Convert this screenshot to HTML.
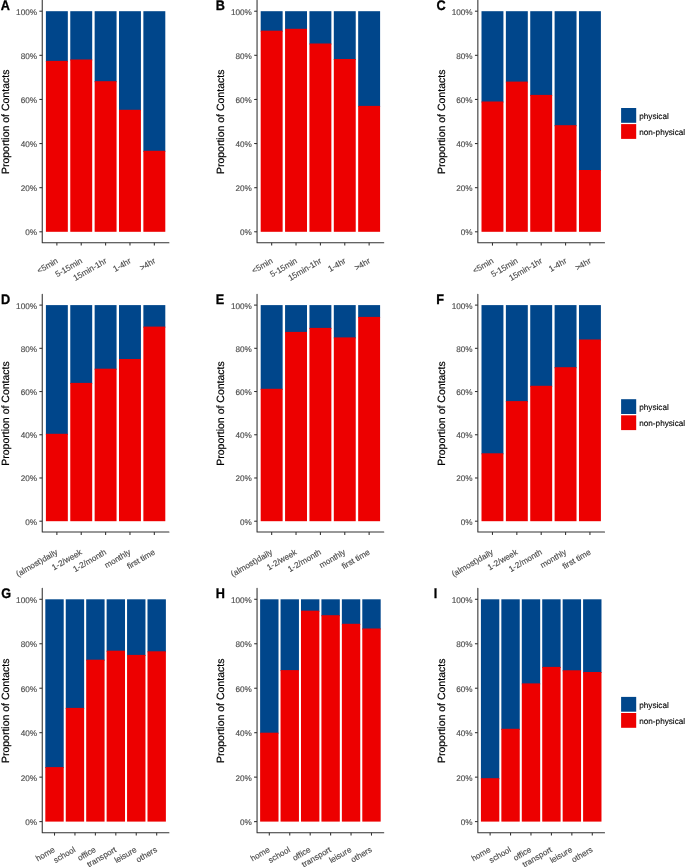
<!DOCTYPE html>
<html><head><meta charset="utf-8"><title>Proportion of Contacts</title>
<style>
html,body{margin:0;padding:0;background:#fff;}
body{width:685px;height:867px;overflow:hidden;}
svg{display:block;will-change:transform;}
text{font-family:"Liberation Sans",sans-serif;text-rendering:geometricPrecision;}
.tk{font-size:8.2px;fill:#4D4D4D;stroke:#4D4D4D;stroke-width:0.15px;}
.tt{font-size:10.5px;fill:#000;stroke:#000;stroke-width:0.2px;}
.lt{font-size:13.8px;font-weight:bold;fill:#000;stroke:#000;stroke-width:0.3px;}
.lg{font-size:8.2px;fill:#000;stroke:#000;stroke-width:0.12px;}
</style></head>
<body>
<svg width="685" height="867" viewBox="0 0 685 867">
<rect width="685" height="867" fill="#fff"/>
<rect x="45.90" y="11.20" width="21.93" height="50.70" fill="#00468B"/>
<rect x="45.90" y="60.90" width="21.93" height="170.90" fill="#ED0000"/>
<rect x="70.27" y="11.20" width="21.93" height="49.30" fill="#00468B"/>
<rect x="70.27" y="59.50" width="21.93" height="172.30" fill="#ED0000"/>
<rect x="94.64" y="11.20" width="21.93" height="71.00" fill="#00468B"/>
<rect x="94.64" y="81.20" width="21.93" height="150.60" fill="#ED0000"/>
<rect x="119.00" y="11.20" width="21.93" height="99.60" fill="#00468B"/>
<rect x="119.00" y="109.80" width="21.93" height="122.00" fill="#ED0000"/>
<rect x="143.37" y="11.20" width="21.93" height="140.60" fill="#00468B"/>
<rect x="143.37" y="150.80" width="21.93" height="81.00" fill="#ED0000"/>
<path d="M42.25 0.20V242.70H168.95" fill="none" stroke="#333333" stroke-width="1.07" stroke-linejoin="round" stroke-linecap="round"/>
<line x1="39.35" y1="231.80" x2="42.25" y2="231.80" stroke="#333333" stroke-width="1.07"/>
<text x="37.05" y="235.30" text-anchor="end" class="tk">0%</text>
<line x1="39.35" y1="187.68" x2="42.25" y2="187.68" stroke="#333333" stroke-width="1.07"/>
<text x="37.05" y="191.18" text-anchor="end" class="tk">20%</text>
<line x1="39.35" y1="143.56" x2="42.25" y2="143.56" stroke="#333333" stroke-width="1.07"/>
<text x="37.05" y="147.06" text-anchor="end" class="tk">40%</text>
<line x1="39.35" y1="99.44" x2="42.25" y2="99.44" stroke="#333333" stroke-width="1.07"/>
<text x="37.05" y="102.94" text-anchor="end" class="tk">60%</text>
<line x1="39.35" y1="55.32" x2="42.25" y2="55.32" stroke="#333333" stroke-width="1.07"/>
<text x="37.05" y="58.82" text-anchor="end" class="tk">80%</text>
<line x1="39.35" y1="11.20" x2="42.25" y2="11.20" stroke="#333333" stroke-width="1.07"/>
<text x="37.05" y="14.70" text-anchor="end" class="tk">100%</text>
<line x1="56.87" y1="242.70" x2="56.87" y2="245.60" stroke="#333333" stroke-width="1.07"/>
<text transform="translate(58.57,262.50) rotate(-30)" text-anchor="end" class="tk">&lt;5min</text>
<line x1="81.23" y1="242.70" x2="81.23" y2="245.60" stroke="#333333" stroke-width="1.07"/>
<text transform="translate(82.93,262.50) rotate(-30)" text-anchor="end" class="tk">5-15min</text>
<line x1="105.60" y1="242.70" x2="105.60" y2="245.60" stroke="#333333" stroke-width="1.07"/>
<text transform="translate(107.30,262.50) rotate(-30)" text-anchor="end" class="tk">15min-1hr</text>
<line x1="129.97" y1="242.70" x2="129.97" y2="245.60" stroke="#333333" stroke-width="1.07"/>
<text transform="translate(131.67,262.50) rotate(-30)" text-anchor="end" class="tk">1-4hr</text>
<line x1="154.33" y1="242.70" x2="154.33" y2="245.60" stroke="#333333" stroke-width="1.07"/>
<text transform="translate(156.03,262.50) rotate(-30)" text-anchor="end" class="tk">&gt;4hr</text>
<text transform="translate(9.05,121.85) rotate(-90)" text-anchor="middle" class="tt">Proportion of Contacts</text>
<text transform="translate(0.70,9.90) scale(0.92,1)" class="lt">A</text>
<rect x="260.70" y="11.20" width="21.93" height="20.50" fill="#00468B"/>
<rect x="260.70" y="30.70" width="21.93" height="201.10" fill="#ED0000"/>
<rect x="285.07" y="11.20" width="21.93" height="18.60" fill="#00468B"/>
<rect x="285.07" y="28.80" width="21.93" height="203.00" fill="#ED0000"/>
<rect x="309.44" y="11.20" width="21.93" height="33.30" fill="#00468B"/>
<rect x="309.44" y="43.50" width="21.93" height="188.30" fill="#ED0000"/>
<rect x="333.80" y="11.20" width="21.93" height="48.80" fill="#00468B"/>
<rect x="333.80" y="59.00" width="21.93" height="172.80" fill="#ED0000"/>
<rect x="358.17" y="11.20" width="21.93" height="95.70" fill="#00468B"/>
<rect x="358.17" y="105.90" width="21.93" height="125.90" fill="#ED0000"/>
<path d="M257.05 0.20V242.70H383.75" fill="none" stroke="#333333" stroke-width="1.07" stroke-linejoin="round" stroke-linecap="round"/>
<line x1="254.15" y1="231.80" x2="257.05" y2="231.80" stroke="#333333" stroke-width="1.07"/>
<text x="251.85" y="235.30" text-anchor="end" class="tk">0%</text>
<line x1="254.15" y1="187.68" x2="257.05" y2="187.68" stroke="#333333" stroke-width="1.07"/>
<text x="251.85" y="191.18" text-anchor="end" class="tk">20%</text>
<line x1="254.15" y1="143.56" x2="257.05" y2="143.56" stroke="#333333" stroke-width="1.07"/>
<text x="251.85" y="147.06" text-anchor="end" class="tk">40%</text>
<line x1="254.15" y1="99.44" x2="257.05" y2="99.44" stroke="#333333" stroke-width="1.07"/>
<text x="251.85" y="102.94" text-anchor="end" class="tk">60%</text>
<line x1="254.15" y1="55.32" x2="257.05" y2="55.32" stroke="#333333" stroke-width="1.07"/>
<text x="251.85" y="58.82" text-anchor="end" class="tk">80%</text>
<line x1="254.15" y1="11.20" x2="257.05" y2="11.20" stroke="#333333" stroke-width="1.07"/>
<text x="251.85" y="14.70" text-anchor="end" class="tk">100%</text>
<line x1="271.67" y1="242.70" x2="271.67" y2="245.60" stroke="#333333" stroke-width="1.07"/>
<text transform="translate(273.37,262.50) rotate(-30)" text-anchor="end" class="tk">&lt;5min</text>
<line x1="296.03" y1="242.70" x2="296.03" y2="245.60" stroke="#333333" stroke-width="1.07"/>
<text transform="translate(297.73,262.50) rotate(-30)" text-anchor="end" class="tk">5-15min</text>
<line x1="320.40" y1="242.70" x2="320.40" y2="245.60" stroke="#333333" stroke-width="1.07"/>
<text transform="translate(322.10,262.50) rotate(-30)" text-anchor="end" class="tk">15min-1hr</text>
<line x1="344.77" y1="242.70" x2="344.77" y2="245.60" stroke="#333333" stroke-width="1.07"/>
<text transform="translate(346.47,262.50) rotate(-30)" text-anchor="end" class="tk">1-4hr</text>
<line x1="369.13" y1="242.70" x2="369.13" y2="245.60" stroke="#333333" stroke-width="1.07"/>
<text transform="translate(370.83,262.50) rotate(-30)" text-anchor="end" class="tk">&gt;4hr</text>
<text transform="translate(223.85,121.85) rotate(-90)" text-anchor="middle" class="tt">Proportion of Contacts</text>
<text transform="translate(215.70,9.90) scale(0.92,1)" class="lt">B</text>
<rect x="481.50" y="11.20" width="21.93" height="91.30" fill="#00468B"/>
<rect x="481.50" y="101.50" width="21.93" height="130.30" fill="#ED0000"/>
<rect x="505.87" y="11.20" width="21.93" height="71.40" fill="#00468B"/>
<rect x="505.87" y="81.60" width="21.93" height="150.20" fill="#ED0000"/>
<rect x="530.24" y="11.20" width="21.93" height="84.70" fill="#00468B"/>
<rect x="530.24" y="94.90" width="21.93" height="136.90" fill="#ED0000"/>
<rect x="554.60" y="11.20" width="21.93" height="115.00" fill="#00468B"/>
<rect x="554.60" y="125.20" width="21.93" height="106.60" fill="#ED0000"/>
<rect x="578.97" y="11.20" width="21.93" height="159.80" fill="#00468B"/>
<rect x="578.97" y="170.00" width="21.93" height="61.80" fill="#ED0000"/>
<path d="M477.85 0.20V242.70H604.55" fill="none" stroke="#333333" stroke-width="1.07" stroke-linejoin="round" stroke-linecap="round"/>
<line x1="474.95" y1="231.80" x2="477.85" y2="231.80" stroke="#333333" stroke-width="1.07"/>
<text x="472.65" y="235.30" text-anchor="end" class="tk">0%</text>
<line x1="474.95" y1="187.68" x2="477.85" y2="187.68" stroke="#333333" stroke-width="1.07"/>
<text x="472.65" y="191.18" text-anchor="end" class="tk">20%</text>
<line x1="474.95" y1="143.56" x2="477.85" y2="143.56" stroke="#333333" stroke-width="1.07"/>
<text x="472.65" y="147.06" text-anchor="end" class="tk">40%</text>
<line x1="474.95" y1="99.44" x2="477.85" y2="99.44" stroke="#333333" stroke-width="1.07"/>
<text x="472.65" y="102.94" text-anchor="end" class="tk">60%</text>
<line x1="474.95" y1="55.32" x2="477.85" y2="55.32" stroke="#333333" stroke-width="1.07"/>
<text x="472.65" y="58.82" text-anchor="end" class="tk">80%</text>
<line x1="474.95" y1="11.20" x2="477.85" y2="11.20" stroke="#333333" stroke-width="1.07"/>
<text x="472.65" y="14.70" text-anchor="end" class="tk">100%</text>
<line x1="492.47" y1="242.70" x2="492.47" y2="245.60" stroke="#333333" stroke-width="1.07"/>
<text transform="translate(494.17,262.50) rotate(-30)" text-anchor="end" class="tk">&lt;5min</text>
<line x1="516.83" y1="242.70" x2="516.83" y2="245.60" stroke="#333333" stroke-width="1.07"/>
<text transform="translate(518.53,262.50) rotate(-30)" text-anchor="end" class="tk">5-15min</text>
<line x1="541.20" y1="242.70" x2="541.20" y2="245.60" stroke="#333333" stroke-width="1.07"/>
<text transform="translate(542.90,262.50) rotate(-30)" text-anchor="end" class="tk">15min-1hr</text>
<line x1="565.57" y1="242.70" x2="565.57" y2="245.60" stroke="#333333" stroke-width="1.07"/>
<text transform="translate(567.27,262.50) rotate(-30)" text-anchor="end" class="tk">1-4hr</text>
<line x1="589.93" y1="242.70" x2="589.93" y2="245.60" stroke="#333333" stroke-width="1.07"/>
<text transform="translate(591.63,262.50) rotate(-30)" text-anchor="end" class="tk">&gt;4hr</text>
<text transform="translate(444.65,121.85) rotate(-90)" text-anchor="middle" class="tt">Proportion of Contacts</text>
<text transform="translate(436.60,9.90) scale(0.92,1)" class="lt">C</text>
<rect x="621.1" y="108.00" width="15.1" height="14.8" fill="#00468B"/>
<rect x="621.1" y="124.10" width="15.1" height="14.8" fill="#ED0000"/>
<text x="639.2" y="118.70" class="lg">physical</text>
<text x="639.2" y="134.70" class="lg">non-physical</text>
<rect x="45.90" y="305.10" width="21.93" height="129.70" fill="#00468B"/>
<rect x="45.90" y="433.80" width="21.93" height="87.40" fill="#ED0000"/>
<rect x="70.27" y="305.10" width="21.93" height="78.80" fill="#00468B"/>
<rect x="70.27" y="382.90" width="21.93" height="138.30" fill="#ED0000"/>
<rect x="94.64" y="305.10" width="21.93" height="64.60" fill="#00468B"/>
<rect x="94.64" y="368.70" width="21.93" height="152.50" fill="#ED0000"/>
<rect x="119.00" y="305.10" width="21.93" height="54.90" fill="#00468B"/>
<rect x="119.00" y="359.00" width="21.93" height="162.20" fill="#ED0000"/>
<rect x="143.37" y="305.10" width="21.93" height="22.50" fill="#00468B"/>
<rect x="143.37" y="326.60" width="21.93" height="194.60" fill="#ED0000"/>
<path d="M42.25 294.20V532.00H168.95" fill="none" stroke="#333333" stroke-width="1.07" stroke-linejoin="round" stroke-linecap="round"/>
<line x1="39.35" y1="521.20" x2="42.25" y2="521.20" stroke="#333333" stroke-width="1.07"/>
<text x="37.05" y="524.70" text-anchor="end" class="tk">0%</text>
<line x1="39.35" y1="477.98" x2="42.25" y2="477.98" stroke="#333333" stroke-width="1.07"/>
<text x="37.05" y="481.48" text-anchor="end" class="tk">20%</text>
<line x1="39.35" y1="434.76" x2="42.25" y2="434.76" stroke="#333333" stroke-width="1.07"/>
<text x="37.05" y="438.26" text-anchor="end" class="tk">40%</text>
<line x1="39.35" y1="391.54" x2="42.25" y2="391.54" stroke="#333333" stroke-width="1.07"/>
<text x="37.05" y="395.04" text-anchor="end" class="tk">60%</text>
<line x1="39.35" y1="348.32" x2="42.25" y2="348.32" stroke="#333333" stroke-width="1.07"/>
<text x="37.05" y="351.82" text-anchor="end" class="tk">80%</text>
<line x1="39.35" y1="305.10" x2="42.25" y2="305.10" stroke="#333333" stroke-width="1.07"/>
<text x="37.05" y="308.60" text-anchor="end" class="tk">100%</text>
<line x1="56.87" y1="532.00" x2="56.87" y2="534.90" stroke="#333333" stroke-width="1.07"/>
<text transform="translate(58.27,553.80) rotate(-30)" text-anchor="end" class="tk">(almost)daily</text>
<line x1="81.23" y1="532.00" x2="81.23" y2="534.90" stroke="#333333" stroke-width="1.07"/>
<text transform="translate(82.63,553.80) rotate(-30)" text-anchor="end" class="tk">1-2/week</text>
<line x1="105.60" y1="532.00" x2="105.60" y2="534.90" stroke="#333333" stroke-width="1.07"/>
<text transform="translate(107.00,553.80) rotate(-30)" text-anchor="end" class="tk">1-2/month</text>
<line x1="129.97" y1="532.00" x2="129.97" y2="534.90" stroke="#333333" stroke-width="1.07"/>
<text transform="translate(131.37,553.80) rotate(-30)" text-anchor="end" class="tk">monthly</text>
<line x1="154.33" y1="532.00" x2="154.33" y2="534.90" stroke="#333333" stroke-width="1.07"/>
<text transform="translate(155.73,553.80) rotate(-30)" text-anchor="end" class="tk">first time</text>
<text transform="translate(9.05,413.50) rotate(-90)" text-anchor="middle" class="tt">Proportion of Contacts</text>
<text transform="translate(1.00,303.50) scale(0.92,1)" class="lt">D</text>
<rect x="260.70" y="305.10" width="21.93" height="84.70" fill="#00468B"/>
<rect x="260.70" y="388.80" width="21.93" height="132.40" fill="#ED0000"/>
<rect x="285.07" y="305.10" width="21.93" height="27.80" fill="#00468B"/>
<rect x="285.07" y="331.90" width="21.93" height="189.30" fill="#ED0000"/>
<rect x="309.44" y="305.10" width="21.93" height="23.80" fill="#00468B"/>
<rect x="309.44" y="327.90" width="21.93" height="193.30" fill="#ED0000"/>
<rect x="333.80" y="305.10" width="21.93" height="33.30" fill="#00468B"/>
<rect x="333.80" y="337.40" width="21.93" height="183.80" fill="#ED0000"/>
<rect x="358.17" y="305.10" width="21.93" height="12.80" fill="#00468B"/>
<rect x="358.17" y="316.90" width="21.93" height="204.30" fill="#ED0000"/>
<path d="M257.05 294.20V532.00H383.75" fill="none" stroke="#333333" stroke-width="1.07" stroke-linejoin="round" stroke-linecap="round"/>
<line x1="254.15" y1="521.20" x2="257.05" y2="521.20" stroke="#333333" stroke-width="1.07"/>
<text x="251.85" y="524.70" text-anchor="end" class="tk">0%</text>
<line x1="254.15" y1="477.98" x2="257.05" y2="477.98" stroke="#333333" stroke-width="1.07"/>
<text x="251.85" y="481.48" text-anchor="end" class="tk">20%</text>
<line x1="254.15" y1="434.76" x2="257.05" y2="434.76" stroke="#333333" stroke-width="1.07"/>
<text x="251.85" y="438.26" text-anchor="end" class="tk">40%</text>
<line x1="254.15" y1="391.54" x2="257.05" y2="391.54" stroke="#333333" stroke-width="1.07"/>
<text x="251.85" y="395.04" text-anchor="end" class="tk">60%</text>
<line x1="254.15" y1="348.32" x2="257.05" y2="348.32" stroke="#333333" stroke-width="1.07"/>
<text x="251.85" y="351.82" text-anchor="end" class="tk">80%</text>
<line x1="254.15" y1="305.10" x2="257.05" y2="305.10" stroke="#333333" stroke-width="1.07"/>
<text x="251.85" y="308.60" text-anchor="end" class="tk">100%</text>
<line x1="271.67" y1="532.00" x2="271.67" y2="534.90" stroke="#333333" stroke-width="1.07"/>
<text transform="translate(273.07,553.80) rotate(-30)" text-anchor="end" class="tk">(almost)daily</text>
<line x1="296.03" y1="532.00" x2="296.03" y2="534.90" stroke="#333333" stroke-width="1.07"/>
<text transform="translate(297.43,553.80) rotate(-30)" text-anchor="end" class="tk">1-2/week</text>
<line x1="320.40" y1="532.00" x2="320.40" y2="534.90" stroke="#333333" stroke-width="1.07"/>
<text transform="translate(321.80,553.80) rotate(-30)" text-anchor="end" class="tk">1-2/month</text>
<line x1="344.77" y1="532.00" x2="344.77" y2="534.90" stroke="#333333" stroke-width="1.07"/>
<text transform="translate(346.17,553.80) rotate(-30)" text-anchor="end" class="tk">monthly</text>
<line x1="369.13" y1="532.00" x2="369.13" y2="534.90" stroke="#333333" stroke-width="1.07"/>
<text transform="translate(370.53,553.80) rotate(-30)" text-anchor="end" class="tk">first time</text>
<text transform="translate(223.85,413.50) rotate(-90)" text-anchor="middle" class="tt">Proportion of Contacts</text>
<text transform="translate(215.70,303.50) scale(0.92,1)" class="lt">E</text>
<rect x="481.50" y="305.10" width="21.93" height="149.20" fill="#00468B"/>
<rect x="481.50" y="453.30" width="21.93" height="67.90" fill="#ED0000"/>
<rect x="505.87" y="305.10" width="21.93" height="97.00" fill="#00468B"/>
<rect x="505.87" y="401.10" width="21.93" height="120.10" fill="#ED0000"/>
<rect x="530.24" y="305.10" width="21.93" height="81.70" fill="#00468B"/>
<rect x="530.24" y="385.80" width="21.93" height="135.40" fill="#ED0000"/>
<rect x="554.60" y="305.10" width="21.93" height="63.10" fill="#00468B"/>
<rect x="554.60" y="367.20" width="21.93" height="154.00" fill="#ED0000"/>
<rect x="578.97" y="305.10" width="21.93" height="35.40" fill="#00468B"/>
<rect x="578.97" y="339.50" width="21.93" height="181.70" fill="#ED0000"/>
<path d="M477.85 294.20V532.00H604.55" fill="none" stroke="#333333" stroke-width="1.07" stroke-linejoin="round" stroke-linecap="round"/>
<line x1="474.95" y1="521.20" x2="477.85" y2="521.20" stroke="#333333" stroke-width="1.07"/>
<text x="472.65" y="524.70" text-anchor="end" class="tk">0%</text>
<line x1="474.95" y1="477.98" x2="477.85" y2="477.98" stroke="#333333" stroke-width="1.07"/>
<text x="472.65" y="481.48" text-anchor="end" class="tk">20%</text>
<line x1="474.95" y1="434.76" x2="477.85" y2="434.76" stroke="#333333" stroke-width="1.07"/>
<text x="472.65" y="438.26" text-anchor="end" class="tk">40%</text>
<line x1="474.95" y1="391.54" x2="477.85" y2="391.54" stroke="#333333" stroke-width="1.07"/>
<text x="472.65" y="395.04" text-anchor="end" class="tk">60%</text>
<line x1="474.95" y1="348.32" x2="477.85" y2="348.32" stroke="#333333" stroke-width="1.07"/>
<text x="472.65" y="351.82" text-anchor="end" class="tk">80%</text>
<line x1="474.95" y1="305.10" x2="477.85" y2="305.10" stroke="#333333" stroke-width="1.07"/>
<text x="472.65" y="308.60" text-anchor="end" class="tk">100%</text>
<line x1="492.47" y1="532.00" x2="492.47" y2="534.90" stroke="#333333" stroke-width="1.07"/>
<text transform="translate(493.87,553.80) rotate(-30)" text-anchor="end" class="tk">(almost)daily</text>
<line x1="516.83" y1="532.00" x2="516.83" y2="534.90" stroke="#333333" stroke-width="1.07"/>
<text transform="translate(518.23,553.80) rotate(-30)" text-anchor="end" class="tk">1-2/week</text>
<line x1="541.20" y1="532.00" x2="541.20" y2="534.90" stroke="#333333" stroke-width="1.07"/>
<text transform="translate(542.60,553.80) rotate(-30)" text-anchor="end" class="tk">1-2/month</text>
<line x1="565.57" y1="532.00" x2="565.57" y2="534.90" stroke="#333333" stroke-width="1.07"/>
<text transform="translate(566.97,553.80) rotate(-30)" text-anchor="end" class="tk">monthly</text>
<line x1="589.93" y1="532.00" x2="589.93" y2="534.90" stroke="#333333" stroke-width="1.07"/>
<text transform="translate(591.33,553.80) rotate(-30)" text-anchor="end" class="tk">first time</text>
<text transform="translate(444.65,413.50) rotate(-90)" text-anchor="middle" class="tt">Proportion of Contacts</text>
<text transform="translate(436.30,303.50) scale(0.92,1)" class="lt">F</text>
<rect x="621.1" y="399.20" width="15.1" height="14.8" fill="#00468B"/>
<rect x="621.1" y="415.30" width="15.1" height="14.8" fill="#ED0000"/>
<text x="639.2" y="409.90" class="lg">physical</text>
<text x="639.2" y="425.90" class="lg">non-physical</text>
<rect x="45.32" y="599.30" width="18.39" height="168.80" fill="#00468B"/>
<rect x="45.32" y="767.10" width="18.39" height="54.50" fill="#ED0000"/>
<rect x="65.75" y="599.30" width="18.39" height="109.60" fill="#00468B"/>
<rect x="65.75" y="707.90" width="18.39" height="113.70" fill="#ED0000"/>
<rect x="86.19" y="599.30" width="18.39" height="61.40" fill="#00468B"/>
<rect x="86.19" y="659.70" width="18.39" height="161.90" fill="#ED0000"/>
<rect x="106.62" y="599.30" width="18.39" height="52.40" fill="#00468B"/>
<rect x="106.62" y="650.70" width="18.39" height="170.90" fill="#ED0000"/>
<rect x="127.06" y="599.30" width="18.39" height="56.60" fill="#00468B"/>
<rect x="127.06" y="654.90" width="18.39" height="166.70" fill="#ED0000"/>
<rect x="147.49" y="599.30" width="18.39" height="53.00" fill="#00468B"/>
<rect x="147.49" y="651.30" width="18.39" height="170.30" fill="#ED0000"/>
<path d="M42.25 588.20V832.70H168.95" fill="none" stroke="#333333" stroke-width="1.07" stroke-linejoin="round" stroke-linecap="round"/>
<line x1="39.35" y1="821.60" x2="42.25" y2="821.60" stroke="#333333" stroke-width="1.07"/>
<text x="37.05" y="825.10" text-anchor="end" class="tk">0%</text>
<line x1="39.35" y1="777.14" x2="42.25" y2="777.14" stroke="#333333" stroke-width="1.07"/>
<text x="37.05" y="780.64" text-anchor="end" class="tk">20%</text>
<line x1="39.35" y1="732.68" x2="42.25" y2="732.68" stroke="#333333" stroke-width="1.07"/>
<text x="37.05" y="736.18" text-anchor="end" class="tk">40%</text>
<line x1="39.35" y1="688.22" x2="42.25" y2="688.22" stroke="#333333" stroke-width="1.07"/>
<text x="37.05" y="691.72" text-anchor="end" class="tk">60%</text>
<line x1="39.35" y1="643.76" x2="42.25" y2="643.76" stroke="#333333" stroke-width="1.07"/>
<text x="37.05" y="647.26" text-anchor="end" class="tk">80%</text>
<line x1="39.35" y1="599.30" x2="42.25" y2="599.30" stroke="#333333" stroke-width="1.07"/>
<text x="37.05" y="602.80" text-anchor="end" class="tk">100%</text>
<line x1="54.51" y1="832.70" x2="54.51" y2="835.60" stroke="#333333" stroke-width="1.07"/>
<text transform="translate(55.56,851.30) rotate(-30)" text-anchor="end" class="tk">home</text>
<line x1="74.95" y1="832.70" x2="74.95" y2="835.60" stroke="#333333" stroke-width="1.07"/>
<text transform="translate(76.00,851.30) rotate(-30)" text-anchor="end" class="tk">school</text>
<line x1="95.38" y1="832.70" x2="95.38" y2="835.60" stroke="#333333" stroke-width="1.07"/>
<text transform="translate(96.43,851.30) rotate(-30)" text-anchor="end" class="tk">office</text>
<line x1="115.82" y1="832.70" x2="115.82" y2="835.60" stroke="#333333" stroke-width="1.07"/>
<text transform="translate(116.87,851.30) rotate(-30)" text-anchor="end" class="tk">transport</text>
<line x1="136.25" y1="832.70" x2="136.25" y2="835.60" stroke="#333333" stroke-width="1.07"/>
<text transform="translate(137.30,851.30) rotate(-30)" text-anchor="end" class="tk">leisure</text>
<line x1="156.69" y1="832.70" x2="156.69" y2="835.60" stroke="#333333" stroke-width="1.07"/>
<text transform="translate(157.74,851.30) rotate(-30)" text-anchor="end" class="tk">others</text>
<text transform="translate(9.05,710.85) rotate(-90)" text-anchor="middle" class="tt">Proportion of Contacts</text>
<text transform="translate(1.30,597.50) scale(0.92,1)" class="lt">G</text>
<rect x="260.12" y="599.30" width="18.39" height="134.40" fill="#00468B"/>
<rect x="260.12" y="732.70" width="18.39" height="88.90" fill="#ED0000"/>
<rect x="280.55" y="599.30" width="18.39" height="71.80" fill="#00468B"/>
<rect x="280.55" y="670.10" width="18.39" height="151.50" fill="#ED0000"/>
<rect x="300.99" y="599.30" width="18.39" height="12.40" fill="#00468B"/>
<rect x="300.99" y="610.70" width="18.39" height="210.90" fill="#ED0000"/>
<rect x="321.42" y="599.30" width="18.39" height="16.90" fill="#00468B"/>
<rect x="321.42" y="615.20" width="18.39" height="206.40" fill="#ED0000"/>
<rect x="341.86" y="599.30" width="18.39" height="25.50" fill="#00468B"/>
<rect x="341.86" y="623.80" width="18.39" height="197.80" fill="#ED0000"/>
<rect x="362.29" y="599.30" width="18.39" height="30.20" fill="#00468B"/>
<rect x="362.29" y="628.50" width="18.39" height="193.10" fill="#ED0000"/>
<path d="M257.05 588.20V832.70H383.75" fill="none" stroke="#333333" stroke-width="1.07" stroke-linejoin="round" stroke-linecap="round"/>
<line x1="254.15" y1="821.60" x2="257.05" y2="821.60" stroke="#333333" stroke-width="1.07"/>
<text x="251.85" y="825.10" text-anchor="end" class="tk">0%</text>
<line x1="254.15" y1="777.14" x2="257.05" y2="777.14" stroke="#333333" stroke-width="1.07"/>
<text x="251.85" y="780.64" text-anchor="end" class="tk">20%</text>
<line x1="254.15" y1="732.68" x2="257.05" y2="732.68" stroke="#333333" stroke-width="1.07"/>
<text x="251.85" y="736.18" text-anchor="end" class="tk">40%</text>
<line x1="254.15" y1="688.22" x2="257.05" y2="688.22" stroke="#333333" stroke-width="1.07"/>
<text x="251.85" y="691.72" text-anchor="end" class="tk">60%</text>
<line x1="254.15" y1="643.76" x2="257.05" y2="643.76" stroke="#333333" stroke-width="1.07"/>
<text x="251.85" y="647.26" text-anchor="end" class="tk">80%</text>
<line x1="254.15" y1="599.30" x2="257.05" y2="599.30" stroke="#333333" stroke-width="1.07"/>
<text x="251.85" y="602.80" text-anchor="end" class="tk">100%</text>
<line x1="269.31" y1="832.70" x2="269.31" y2="835.60" stroke="#333333" stroke-width="1.07"/>
<text transform="translate(270.36,851.30) rotate(-30)" text-anchor="end" class="tk">home</text>
<line x1="289.75" y1="832.70" x2="289.75" y2="835.60" stroke="#333333" stroke-width="1.07"/>
<text transform="translate(290.80,851.30) rotate(-30)" text-anchor="end" class="tk">school</text>
<line x1="310.18" y1="832.70" x2="310.18" y2="835.60" stroke="#333333" stroke-width="1.07"/>
<text transform="translate(311.23,851.30) rotate(-30)" text-anchor="end" class="tk">office</text>
<line x1="330.62" y1="832.70" x2="330.62" y2="835.60" stroke="#333333" stroke-width="1.07"/>
<text transform="translate(331.67,851.30) rotate(-30)" text-anchor="end" class="tk">transport</text>
<line x1="351.05" y1="832.70" x2="351.05" y2="835.60" stroke="#333333" stroke-width="1.07"/>
<text transform="translate(352.10,851.30) rotate(-30)" text-anchor="end" class="tk">leisure</text>
<line x1="371.49" y1="832.70" x2="371.49" y2="835.60" stroke="#333333" stroke-width="1.07"/>
<text transform="translate(372.54,851.30) rotate(-30)" text-anchor="end" class="tk">others</text>
<text transform="translate(223.85,710.85) rotate(-90)" text-anchor="middle" class="tt">Proportion of Contacts</text>
<text transform="translate(215.70,597.50) scale(0.92,1)" class="lt">H</text>
<rect x="480.92" y="599.30" width="18.39" height="179.90" fill="#00468B"/>
<rect x="480.92" y="778.20" width="18.39" height="43.40" fill="#ED0000"/>
<rect x="501.35" y="599.30" width="18.39" height="130.50" fill="#00468B"/>
<rect x="501.35" y="728.80" width="18.39" height="92.80" fill="#ED0000"/>
<rect x="521.79" y="599.30" width="18.39" height="85.10" fill="#00468B"/>
<rect x="521.79" y="683.40" width="18.39" height="138.20" fill="#ED0000"/>
<rect x="542.22" y="599.30" width="18.39" height="68.60" fill="#00468B"/>
<rect x="542.22" y="666.90" width="18.39" height="154.70" fill="#ED0000"/>
<rect x="562.66" y="599.30" width="18.39" height="72.00" fill="#00468B"/>
<rect x="562.66" y="670.30" width="18.39" height="151.30" fill="#ED0000"/>
<rect x="583.09" y="599.30" width="18.39" height="73.70" fill="#00468B"/>
<rect x="583.09" y="672.00" width="18.39" height="149.60" fill="#ED0000"/>
<path d="M477.85 588.20V832.70H604.55" fill="none" stroke="#333333" stroke-width="1.07" stroke-linejoin="round" stroke-linecap="round"/>
<line x1="474.95" y1="821.60" x2="477.85" y2="821.60" stroke="#333333" stroke-width="1.07"/>
<text x="472.65" y="825.10" text-anchor="end" class="tk">0%</text>
<line x1="474.95" y1="777.14" x2="477.85" y2="777.14" stroke="#333333" stroke-width="1.07"/>
<text x="472.65" y="780.64" text-anchor="end" class="tk">20%</text>
<line x1="474.95" y1="732.68" x2="477.85" y2="732.68" stroke="#333333" stroke-width="1.07"/>
<text x="472.65" y="736.18" text-anchor="end" class="tk">40%</text>
<line x1="474.95" y1="688.22" x2="477.85" y2="688.22" stroke="#333333" stroke-width="1.07"/>
<text x="472.65" y="691.72" text-anchor="end" class="tk">60%</text>
<line x1="474.95" y1="643.76" x2="477.85" y2="643.76" stroke="#333333" stroke-width="1.07"/>
<text x="472.65" y="647.26" text-anchor="end" class="tk">80%</text>
<line x1="474.95" y1="599.30" x2="477.85" y2="599.30" stroke="#333333" stroke-width="1.07"/>
<text x="472.65" y="602.80" text-anchor="end" class="tk">100%</text>
<line x1="490.11" y1="832.70" x2="490.11" y2="835.60" stroke="#333333" stroke-width="1.07"/>
<text transform="translate(491.16,851.30) rotate(-30)" text-anchor="end" class="tk">home</text>
<line x1="510.55" y1="832.70" x2="510.55" y2="835.60" stroke="#333333" stroke-width="1.07"/>
<text transform="translate(511.60,851.30) rotate(-30)" text-anchor="end" class="tk">school</text>
<line x1="530.98" y1="832.70" x2="530.98" y2="835.60" stroke="#333333" stroke-width="1.07"/>
<text transform="translate(532.03,851.30) rotate(-30)" text-anchor="end" class="tk">office</text>
<line x1="551.42" y1="832.70" x2="551.42" y2="835.60" stroke="#333333" stroke-width="1.07"/>
<text transform="translate(552.47,851.30) rotate(-30)" text-anchor="end" class="tk">transport</text>
<line x1="571.85" y1="832.70" x2="571.85" y2="835.60" stroke="#333333" stroke-width="1.07"/>
<text transform="translate(572.90,851.30) rotate(-30)" text-anchor="end" class="tk">leisure</text>
<line x1="592.29" y1="832.70" x2="592.29" y2="835.60" stroke="#333333" stroke-width="1.07"/>
<text transform="translate(593.34,851.30) rotate(-30)" text-anchor="end" class="tk">others</text>
<text transform="translate(444.65,710.85) rotate(-90)" text-anchor="middle" class="tt">Proportion of Contacts</text>
<text transform="translate(433.80,597.50) scale(0.92,1)" class="lt">I</text>
<rect x="621.1" y="696.90" width="15.1" height="14.8" fill="#00468B"/>
<rect x="621.1" y="713.00" width="15.1" height="14.8" fill="#ED0000"/>
<text x="639.2" y="707.60" class="lg">physical</text>
<text x="639.2" y="723.60" class="lg">non-physical</text>
</svg>
</body></html>
